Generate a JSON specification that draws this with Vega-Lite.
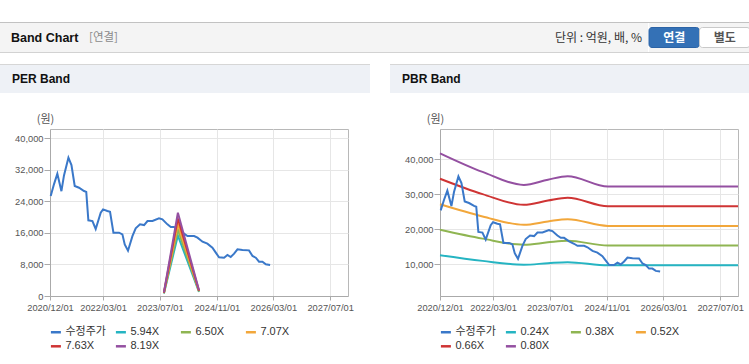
{
  "$schema": "https://vega.github.io/schema/vega-lite/v6.json",
  "background": "#ffffff",
  "padding": {"left": 0, "top": 22, "right": 0, "bottom": 0},
  "config": {"font": "Liberation Sans", "view": {"stroke": null}},
  "datasets": {
    "price": [
      {"date": "2020-12-07", "value": 25360, "series": "수정주가"},
      {"date": "2021-01-04", "value": 28330, "series": "수정주가"},
      {"date": "2021-02-02", "value": 31000, "series": "수정주가"},
      {"date": "2021-03-09", "value": 26600, "series": "수정주가"},
      {"date": "2021-03-31", "value": 30600, "series": "수정주가"},
      {"date": "2021-05-08", "value": 35100, "series": "수정주가"},
      {"date": "2021-06-03", "value": 33200, "series": "수정주가"},
      {"date": "2021-07-01", "value": 27900, "series": "수정주가"},
      {"date": "2021-08-07", "value": 27470, "series": "수정주가"},
      {"date": "2021-09-19", "value": 26630, "series": "수정주가"},
      {"date": "2021-10-08", "value": 26400, "series": "수정주가"},
      {"date": "2021-10-26", "value": 19200, "series": "수정주가"},
      {"date": "2021-11-30", "value": 19020, "series": "수정주가"},
      {"date": "2021-12-28", "value": 17000, "series": "수정주가"},
      {"date": "2022-02-09", "value": 21130, "series": "수정주가"},
      {"date": "2022-03-01", "value": 21980, "series": "수정주가"},
      {"date": "2022-04-07", "value": 21550, "series": "수정주가"},
      {"date": "2022-04-30", "value": 21380, "series": "수정주가"},
      {"date": "2022-05-29", "value": 16060, "series": "수정주가"},
      {"date": "2022-07-16", "value": 16060, "series": "수정주가"},
      {"date": "2022-08-14", "value": 15640, "series": "수정주가"},
      {"date": "2022-09-03", "value": 13100, "series": "수정주가"},
      {"date": "2022-10-01", "value": 11500, "series": "수정주가"},
      {"date": "2022-11-08", "value": 15200, "series": "수정주가"},
      {"date": "2022-12-06", "value": 17160, "series": "수정주가"},
      {"date": "2023-01-12", "value": 18180, "series": "수정주가"},
      {"date": "2023-02-16", "value": 18000, "series": "수정주가"},
      {"date": "2023-03-17", "value": 19020, "series": "수정주가"},
      {"date": "2023-04-29", "value": 19020, "series": "수정주가"},
      {"date": "2023-06-24", "value": 19700, "series": "수정주가"},
      {"date": "2023-07-23", "value": 19450, "series": "수정주가"},
      {"date": "2023-09-04", "value": 18180, "series": "수정주가"},
      {"date": "2023-10-03", "value": 17500, "series": "수정주가"},
      {"date": "2023-10-31", "value": 17500, "series": "수정주가"},
      {"date": "2023-12-13", "value": 16480, "series": "수정주가"},
      {"date": "2024-01-25", "value": 15810, "series": "수정주가"},
      {"date": "2024-02-23", "value": 15220, "series": "수정주가"},
      {"date": "2024-04-20", "value": 15220, "series": "수정주가"},
      {"date": "2024-05-19", "value": 14800, "series": "수정주가"},
      {"date": "2024-07-01", "value": 13780, "series": "수정주가"},
      {"date": "2024-08-12", "value": 13270, "series": "수정주가"},
      {"date": "2024-09-24", "value": 12260, "series": "수정주가"},
      {"date": "2024-10-23", "value": 10990, "series": "수정주가"},
      {"date": "2024-11-20", "value": 9800, "series": "수정주가"},
      {"date": "2025-01-02", "value": 9720, "series": "수정주가"},
      {"date": "2025-01-31", "value": 10400, "series": "수정주가"},
      {"date": "2025-02-28", "value": 9890, "series": "수정주가"},
      {"date": "2025-03-29", "value": 10730, "series": "수정주가"},
      {"date": "2025-04-27", "value": 11840, "series": "수정주가"},
      {"date": "2025-06-09", "value": 11670, "series": "수정주가"},
      {"date": "2025-08-04", "value": 11580, "series": "수정주가"},
      {"date": "2025-09-03", "value": 10150, "series": "수정주가"},
      {"date": "2025-10-01", "value": 9720, "series": "수정주가"},
      {"date": "2025-10-29", "value": 8700, "series": "수정주가"},
      {"date": "2025-11-27", "value": 8700, "series": "수정주가"},
      {"date": "2025-12-26", "value": 8040, "series": "수정주가"},
      {"date": "2026-02-01", "value": 7860, "series": "수정주가"}
    ],
    "perBand": [
      {"date": "2023-08-05", "value": 653, "series": "5.94X"},
      {"date": "2023-12-03", "value": 15325, "series": "5.94X"},
      {"date": "2024-06-01", "value": 1051, "series": "5.94X"},
      {"date": "2023-08-05", "value": 715, "series": "6.50X"},
      {"date": "2023-12-03", "value": 16770, "series": "6.50X"},
      {"date": "2024-06-01", "value": 1150, "series": "6.50X"},
      {"date": "2023-08-05", "value": 778, "series": "7.07X"},
      {"date": "2023-12-03", "value": 18240, "series": "7.07X"},
      {"date": "2024-06-01", "value": 1251, "series": "7.07X"},
      {"date": "2023-08-05", "value": 839, "series": "7.63X"},
      {"date": "2023-12-03", "value": 19685, "series": "7.63X"},
      {"date": "2024-06-01", "value": 1351, "series": "7.63X"},
      {"date": "2023-08-05", "value": 901, "series": "8.19X"},
      {"date": "2023-12-03", "value": 21130, "series": "8.19X"},
      {"date": "2024-06-01", "value": 1450, "series": "8.19X"}
    ],
    "pbrBand": [
      {"date": "2020-12-01", "value": 12510, "series": "0.24X"},
      {"date": "2021-12-01", "value": 10910, "series": "0.24X"},
      {"date": "2022-11-20", "value": 9798, "series": "0.24X"},
      {"date": "2023-06-15", "value": 10248, "series": "0.24X"},
      {"date": "2023-12-01", "value": 10542, "series": "0.24X"},
      {"date": "2024-11-10", "value": 9654, "series": "0.24X"},
      {"date": "2027-12-01", "value": 9654, "series": "0.24X"},
      {"date": "2020-12-01", "value": 19808, "series": "0.38X"},
      {"date": "2021-12-01", "value": 17275, "series": "0.38X"},
      {"date": "2022-11-20", "value": 15514, "series": "0.38X"},
      {"date": "2023-06-15", "value": 16226, "series": "0.38X"},
      {"date": "2023-12-01", "value": 16692, "series": "0.38X"},
      {"date": "2024-11-10", "value": 15286, "series": "0.38X"},
      {"date": "2027-12-01", "value": 15286, "series": "0.38X"},
      {"date": "2020-12-01", "value": 27105, "series": "0.52X"},
      {"date": "2021-12-01", "value": 23639, "series": "0.52X"},
      {"date": "2022-11-20", "value": 21229, "series": "0.52X"},
      {"date": "2023-06-15", "value": 22204, "series": "0.52X"},
      {"date": "2023-12-01", "value": 22841, "series": "0.52X"},
      {"date": "2024-11-10", "value": 20917, "series": "0.52X"},
      {"date": "2027-12-01", "value": 20917, "series": "0.52X"},
      {"date": "2020-12-01", "value": 34403, "series": "0.66X"},
      {"date": "2021-12-01", "value": 30004, "series": "0.66X"},
      {"date": "2022-11-20", "value": 26945, "series": "0.66X"},
      {"date": "2023-06-15", "value": 28182, "series": "0.66X"},
      {"date": "2023-12-01", "value": 28991, "series": "0.66X"},
      {"date": "2024-11-10", "value": 26549, "series": "0.66X"},
      {"date": "2027-12-01", "value": 26549, "series": "0.66X"},
      {"date": "2020-12-01", "value": 41700, "series": "0.80X"},
      {"date": "2021-12-01", "value": 36368, "series": "0.80X"},
      {"date": "2022-11-20", "value": 32660, "series": "0.80X"},
      {"date": "2023-06-15", "value": 34160, "series": "0.80X"},
      {"date": "2023-12-01", "value": 35140, "series": "0.80X"},
      {"date": "2024-11-10", "value": 32180, "series": "0.80X"},
      {"date": "2027-12-01", "value": 32180, "series": "0.80X"}
    ]
  },
  "vconcat": [
    {
      "vconcat": [
        {"width": 749, "height": 1, "data": {"values": []}, "mark": "point", "view": {"fill": "#c2c2c2", "stroke": null}},
        {
          "hconcat": [
            {"width": 80, "height": 29, "data": {"values": []}, "mark": "point", "view": {"fill": "#f4f4f4", "stroke": null},
             "title": {"text": "Band Chart", "frame": "group", "anchor": "start", "orient": "top", "offset": -27.5, "baseline": "middle", "dx": 11, "font": "Liberation Sans", "fontSize": 12.5, "fontWeight": "bold", "color": "#111111"}},
            {"width": 80, "height": 29, "data": {"values": []}, "mark": "point", "view": {"fill": "#f4f4f4", "stroke": null},
             "title": {"text": "[연결]", "frame": "group", "anchor": "start", "orient": "top", "offset": -26.5, "baseline": "middle", "dx": 9, "font": "Noto Sans CJK KR", "fontSize": 11.5, "fontWeight": "normal", "color": "#8a8a8a"}},
            {"width": 488, "height": 29, "data": {"values": []}, "mark": "point", "view": {"fill": "#f4f4f4", "stroke": null},
             "title": {"text": "단위 : 억원, 배, %", "frame": "group", "anchor": "end", "orient": "top", "offset": -27.3, "baseline": "middle", "dx": -6, "font": "Noto Sans CJK KR", "fontSize": 12, "fontWeight": "normal", "color": "#333333"}},
            {
              "width": 101, "height": 29,
              "view": {"fill": "#f4f4f4", "stroke": null},
              "data": {"values": [{"b": "연결", "r": "a"}, {"b": "별도", "r": "a"}]},
              "encoding": {
                "x": {"field": "b", "type": "nominal", "sort": null, "scale": {"domain": ["연결", "별도"], "paddingInner": 0, "paddingOuter": 0}, "axis": null},
                "y": {"field": "r", "type": "nominal", "scale": {"paddingOuter": 0.225, "paddingInner": 0}, "axis": null}
              },
              "layer": [
                {"mark": {"type": "rect", "cornerRadius": 3, "strokeWidth": 1},
                 "encoding": {
                   "color": {"condition": {"test": "datum.b === '연결'", "value": "#3471b6"}, "value": "#ffffff"},
                   "stroke": {"condition": {"test": "datum.b === '연결'", "value": "#2b63a6"}, "value": "#c9c9c9"}
                 }},
                {"mark": {"type": "text", "font": "Noto Sans CJK KR", "fontSize": 12, "fontWeight": "bold"},
                 "encoding": {
                   "text": {"field": "b"},
                   "color": {"condition": {"test": "datum.b === '연결'", "value": "#ffffff"}, "value": "#555555"}
                 }}
              ]
            }
          ],
          "spacing": 0
        },
        {"width": 749, "height": 1, "data": {"values": []}, "mark": "point", "view": {"fill": "#d2d2d2", "stroke": null}}
      ],
      "spacing": 0
    },
    {
      "hconcat": [
        {
          "vconcat": [
            {
              "vconcat": [
                {
                  "vconcat": [
                    {"width": 370, "height": 1, "data": {"values": []}, "mark": "point", "view": {"fill": "#d6d6d6", "stroke": null}},
                    {"width": 370, "height": 28, "data": {"values": []}, "mark": "point", "view": {"fill": "#eef1f6", "stroke": null},
                     "title": {"text": "PER Band", "frame": "group", "anchor": "start", "orient": "top", "offset": -26, "baseline": "middle", "dx": 12, "font": "Liberation Sans", "fontSize": 12, "fontWeight": "bold", "color": "#111111"}}
                  ],
                  "spacing": 0
                },
                {
                  "hconcat": [
                    {"width": 1, "height": 1, "data": {"values": []}, "mark": "point"},
                    {
                      "width": 298, "height": 167,
                      "view": {"stroke": "#b8b8b8", "fill": "#ffffff"},
                      "encoding": {
                        "x": {"field": "date", "type": "temporal",
                              "scale": {"type": "utc", "domain": [{"year": 2020, "month": 12, "date": 1, "utc": true}, {"year": 2027, "month": 12, "date": 1, "utc": true}]},
                              "axis": {"title": null, "format": "%Y/%m/%d", "labelFlush": false, "labelOverlap": false,
                                       "values": [{"year": 2020, "month": 12, "date": 1, "utc": true}, {"year": 2022, "month": 3, "date": 1, "utc": true}, {"year": 2023, "month": 7, "date": 1, "utc": true}, {"year": 2024, "month": 11, "date": 1, "utc": true}, {"year": 2026, "month": 3, "date": 1, "utc": true}, {"year": 2027, "month": 7, "date": 1, "utc": true}],
                                       "grid": true, "gridColor": "#e6e6e6", "domainColor": "#aaaaaa", "tickColor": "#aaaaaa", "tickSize": 4, "labelPadding": 3,
                                       "labelFont": "Liberation Sans", "labelFontSize": 9.3, "labelColor": "#555555"}},
                        "y": {"field": "value", "type": "quantitative",
                              "scale": {"domain": [0, 42367], "nice": false, "zero": false},
                              "axis": {"title": "(원)", "titleAngle": 0, "titleX": -5, "titleY": -10, "titleAlign": "center", "titleBaseline": "middle",
                                       "titleFont": "Noto Sans CJK KR", "titleFontSize": 11, "titleFontWeight": "normal", "titleColor": "#555555",
                                       "values": [0, 8000, 16000, 24000, 32000, 40000], "format": ",d",
                                       "grid": true, "gridColor": "#e6e6e6", "domainColor": "#aaaaaa", "tickColor": "#aaaaaa", "tickSize": 6, "labelPadding": 1,
                                       "labelFont": "Liberation Sans", "labelFontSize": 9.3, "labelColor": "#555555", "minExtent": 48}},
                        "color": {"field": "series", "type": "nominal",
                                  "scale": {"domain": ["수정주가", "5.94X", "6.50X", "7.07X", "7.63X", "8.19X"], "range": ["#3a78c9", "#25b4c2", "#8fb552", "#f2a73b", "#cf3434", "#9450a1"]},
                                  "legend": {"title": null, "orient": "none", "direction": "horizontal", "legendX": -0.6, "legendY": 196.5, "columns": 4, "gridAlign": "all", "columnPadding": 4, "rowPadding": 2.3,
                                             "symbolType": "stroke", "symbolSize": 100, "symbolStrokeWidth": 2.5, "labelOffset": 3, "padding": 0,
                                             "labelFont": "Liberation Sans, Noto Sans CJK KR", "labelFontSize": 11, "labelColor": "#333333"}}
                      },
                      "layer": [
                        {"data": {"name": "price"}, "mark": {"type": "line", "strokeWidth": 2}},
                        {"data": {"name": "perBand"}, "mark": {"type": "line", "strokeWidth": 2}}
                      ]
                    }
                  ],
                  "spacing": 0,
                  "resolve": {"scale": {"color": "independent"}, "legend": {"color": "independent"}}
                }
              ],
              "spacing": 19,
              "resolve": {"scale": {"color": "independent"}, "legend": {"color": "independent"}}
            },
            {"width": 370, "height": 2, "data": {"values": []}, "mark": "point", "view": {"fill": "#dadada", "stroke": null}}
          ],
          "spacing": 12,
          "resolve": {"scale": {"color": "independent"}, "legend": {"color": "independent"}}
        },
        {
          "vconcat": [
            {
              "vconcat": [
                {
                  "vconcat": [
                    {"width": 359, "height": 1, "data": {"values": []}, "mark": "point", "view": {"fill": "#d6d6d6", "stroke": null}},
                    {"width": 359, "height": 28, "data": {"values": []}, "mark": "point", "view": {"fill": "#eef1f6", "stroke": null},
                     "title": {"text": "PBR Band", "frame": "group", "anchor": "start", "orient": "top", "offset": -26, "baseline": "middle", "dx": 12, "font": "Liberation Sans", "fontSize": 12, "fontWeight": "bold", "color": "#111111"}}
                  ],
                  "spacing": 0
                },
                {
                  "hconcat": [
                    {"width": 1, "height": 1, "data": {"values": []}, "mark": "point"},
                    {
                      "width": 298, "height": 167,
                      "view": {"stroke": "#b8b8b8", "fill": "#ffffff"},
                      "encoding": {
                        "x": {"field": "date", "type": "temporal",
                              "scale": {"type": "utc", "domain": [{"year": 2020, "month": 12, "date": 1, "utc": true}, {"year": 2027, "month": 12, "date": 1, "utc": true}]},
                              "axis": {"title": null, "format": "%Y/%m/%d", "labelFlush": false, "labelOverlap": false,
                                       "values": [{"year": 2020, "month": 12, "date": 1, "utc": true}, {"year": 2022, "month": 3, "date": 1, "utc": true}, {"year": 2023, "month": 7, "date": 1, "utc": true}, {"year": 2024, "month": 11, "date": 1, "utc": true}, {"year": 2026, "month": 3, "date": 1, "utc": true}, {"year": 2027, "month": 7, "date": 1, "utc": true}],
                                       "grid": true, "gridColor": "#e6e6e6", "domainColor": "#aaaaaa", "tickColor": "#aaaaaa", "tickSize": 4, "labelPadding": 3,
                                       "labelFont": "Liberation Sans", "labelFontSize": 9.3, "labelColor": "#555555"}},
                        "y": {"field": "value", "type": "quantitative",
                              "scale": {"domain": [857, 48657], "nice": false, "zero": false},
                              "axis": {"title": "(원)", "titleAngle": 0, "titleX": -5, "titleY": -10, "titleAlign": "center", "titleBaseline": "middle",
                                       "titleFont": "Noto Sans CJK KR", "titleFontSize": 11, "titleFontWeight": "normal", "titleColor": "#555555",
                                       "values": [10000, 20000, 30000, 40000], "format": ",d",
                                       "grid": true, "gridColor": "#e6e6e6", "domainColor": "#aaaaaa", "tickColor": "#aaaaaa", "tickSize": 6, "labelPadding": 1,
                                       "labelFont": "Liberation Sans", "labelFontSize": 9.3, "labelColor": "#555555", "minExtent": 48}},
                        "color": {"field": "series", "type": "nominal",
                                  "scale": {"domain": ["수정주가", "0.24X", "0.38X", "0.52X", "0.66X", "0.80X"], "range": ["#3a78c9", "#25b4c2", "#8fb552", "#f2a73b", "#cf3434", "#9450a1"]},
                                  "legend": {"title": null, "orient": "none", "direction": "horizontal", "legendX": -0.6, "legendY": 196.5, "columns": 4, "gridAlign": "all", "columnPadding": 4, "rowPadding": 2.3,
                                             "symbolType": "stroke", "symbolSize": 100, "symbolStrokeWidth": 2.5, "labelOffset": 3, "padding": 0,
                                             "labelFont": "Liberation Sans, Noto Sans CJK KR", "labelFontSize": 11, "labelColor": "#333333"}}
                      },
                      "layer": [
                        {"data": {"name": "pbrBand"}, "mark": {"type": "line", "strokeWidth": 2, "interpolate": "monotone"}},
                        {"data": {"name": "price"}, "mark": {"type": "line", "strokeWidth": 2}}
                      ]
                    }
                  ],
                  "spacing": 0,
                  "resolve": {"scale": {"color": "independent"}, "legend": {"color": "independent"}}
                }
              ],
              "spacing": 19,
              "resolve": {"scale": {"color": "independent"}, "legend": {"color": "independent"}}
            },
            {"width": 359, "height": 2, "data": {"values": []}, "mark": "point", "view": {"fill": "#dadada", "stroke": null}}
          ],
          "spacing": 12,
          "resolve": {"scale": {"color": "independent"}, "legend": {"color": "independent"}}
        }
      ],
      "spacing": 20,
      "resolve": {"scale": {"color": "independent"}, "legend": {"color": "independent"}}
    }
  ],
  "spacing": 11
}
